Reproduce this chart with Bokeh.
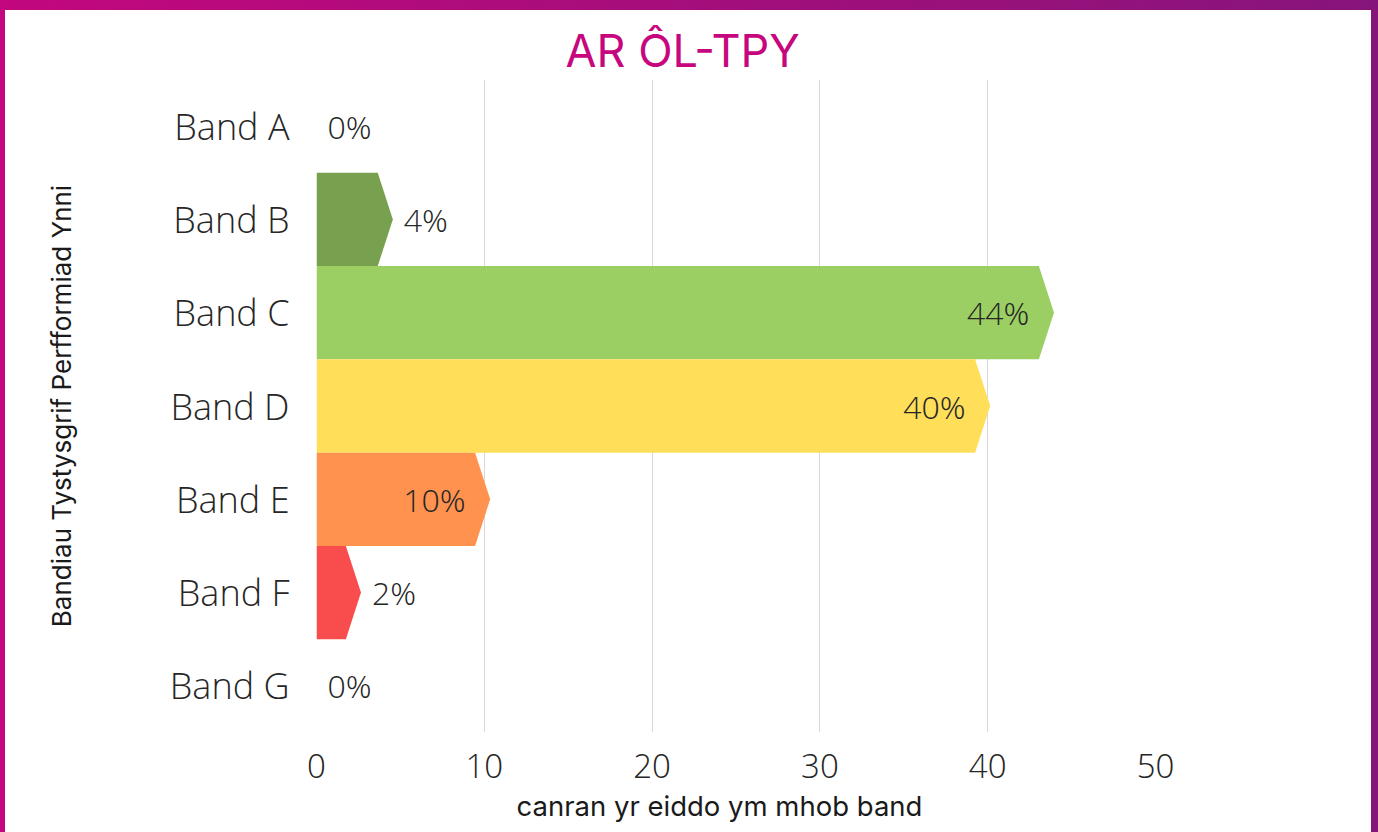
from bokeh.plotting import figure
from bokeh.models import Range1d, FixedTicker, Div, ColumnDataSource, Title
from bokeh.layouts import column, row
from bokeh.core.properties import value
from bokeh.embed import file_html
from bokeh.resources import INLINE

# ---- data ----
bands = ["Band A", "Band B", "Band C", "Band D", "Band E", "Band F", "Band G"]
percent = [0, 4.1, 43.5, 39.7, 9.9, 2.2, 0]
labels = ["0%", "4%", "44%", "40%", "10%", "2%", "0%"]
colors = ["#77A14E", "#77A14E", "#9CCF63", "#FFDE59", "#FF924E", "#F84C4D", "#F84C4D"]
x_ticks = [0, 10, 20, 30, 40, 50]
title_text = "AR ÔL-TPY"
x_title = "canran yr eiddo ym mhob band"
y_title = "Bandiau Tystysgrif Perfformiad Ynni"

LIGHT = "Open Sans Light"
GEO = "Inter"

n = len(bands)
ypos = [n - 1 - i for i in range(n)]
half = 0.45  # half depth of arrow head (data units)

xs, ys, fills = [], [], []
for v, yc, c in zip(percent, ypos, colors):
    if v <= 0:
        continue
    xs.append([0, v - half, v + half, v - half, 0])
    ys.append([yc + 0.5, yc + 0.5, yc, yc - 0.5, yc - 0.5])
    fills.append(c)

p = figure(width=1366, height=822,
           x_range=Range1d(0, 50), y_range=Range1d(-0.5, n - 0.5),
           output_backend="svg", toolbar_location=None,
           min_border_left=311, min_border_right=216,
           min_border_top=69, min_border_bottom=100)
p.outline_line_color = None
p.background_fill_color = "white"
p.border_fill_color = "white"

p.title.text = title_text
p.title.align = "left"
p.title.offset = 249
p.title.standoff = 3
p.title.text_font = GEO
p.title.text_font_style = "normal"
p.title.text_font_size = "45px"
p.title.text_color = "#C6077D"

p.patches(xs, ys, fill_color=fills, line_color=None)

# labels
ix, iy, it, ox, oy, ot = [], [], [], [], [], []
for v, yc, t in zip(percent, ypos, labels):
    if v >= 5:
        ix.append(v); iy.append(yc); it.append(t)
    else:
        ox.append(v + half if v > 0 else 0); oy.append(yc); ot.append(t)
in_src = ColumnDataSource(dict(x=ix, y=iy, t=it))
out_src = ColumnDataSource(dict(x=ox, y=oy, t=ot))
p.text(x="x", y="y", text="t", source=in_src, text_align="right", text_baseline="middle",
       x_offset=-17, text_font=value(LIGHT), text_font_size="32px", text_color="#262626")
p.text(x="x", y="y", text="t", source=out_src, text_align="left", text_baseline="middle",
       x_offset=11, text_font=value(LIGHT), text_font_size="32px", text_color="#262626")

# axes
p.xaxis.ticker = FixedTicker(ticks=x_ticks)
p.xaxis.axis_line_color = None
p.xaxis.major_tick_line_color = None
p.xaxis.minor_tick_line_color = None
p.xaxis.major_label_text_font = LIGHT
p.xaxis.major_label_text_font_size = "33px"
p.xaxis.major_label_text_color = "#262626"
p.xaxis.major_label_standoff = 15

p.add_layout(Title(text=x_title, align="left", offset=200, standoff=13,
                   text_font=GEO, text_font_style="normal", text_font_size="27.5px",
                   text_color="#1A1A1A"), "below")

p.yaxis.ticker = FixedTicker(ticks=ypos)
p.yaxis.major_label_overrides = {yc: b for yc, b in zip(ypos, bands)}
p.yaxis.axis_line_color = None
p.yaxis.major_tick_line_color = None
p.yaxis.minor_tick_line_color = None
p.yaxis.major_label_text_font = LIGHT
p.yaxis.major_label_text_font_size = "36px"
p.yaxis.major_label_text_color = "#262626"
p.yaxis.major_label_standoff = 21
p.yaxis.axis_label = y_title
p.yaxis.axis_label_text_font = GEO
p.yaxis.axis_label_text_font_style = "normal"
p.yaxis.axis_label_text_font_size = "26px"
p.yaxis.axis_label_text_color = "#1A1A1A"
p.yaxis.axis_label_standoff = 90

p.xgrid.grid_line_color = "#D9D9D9"
p.xgrid.grid_line_width = 1
p.ygrid.grid_line_color = None

top = Div(width=1378, height=10, margin=0,
          styles={"background": "linear-gradient(to right, #C3077E, #86157A)"})
left = Div(width=5, height=822, margin=0, styles={"background": "#C3077E"})
right = Div(width=7, height=822, margin=0, styles={"background": "#86157A"})

layout = column(top, row(left, p, right, spacing=0), spacing=0)

open("out.html", "w").write(file_html(layout, INLINE))
